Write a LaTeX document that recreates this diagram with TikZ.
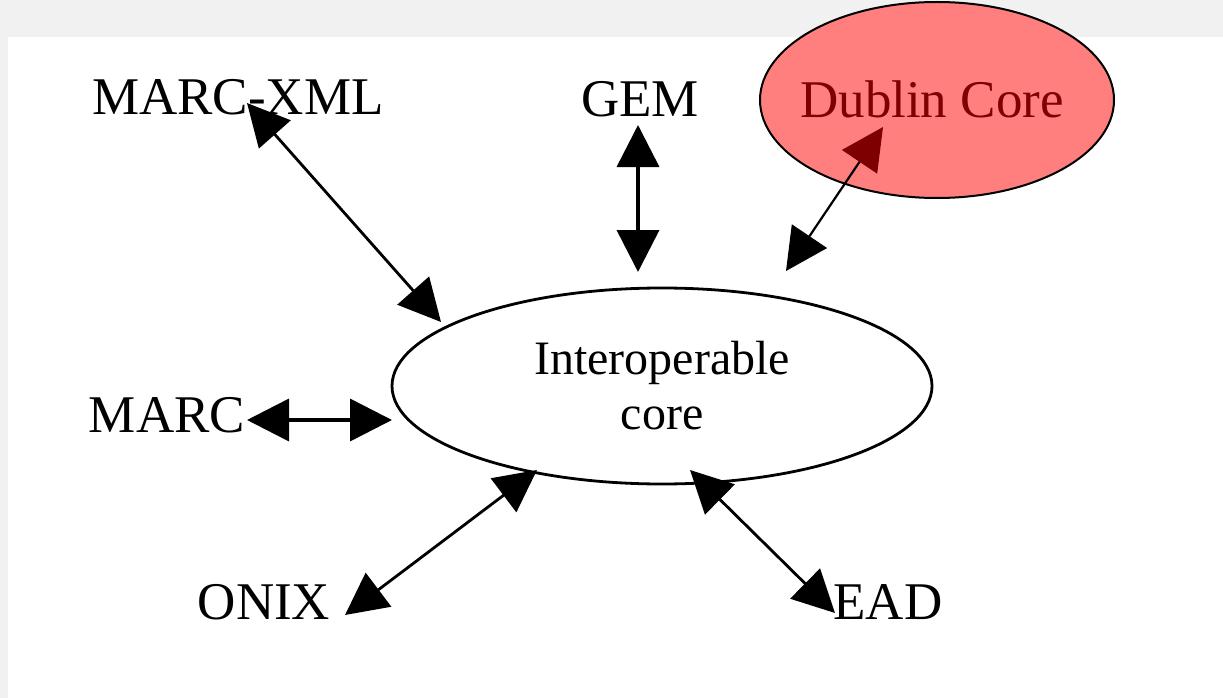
\documentclass[tikz,border=0pt]{standalone}
\usepackage{fontspec}
\setmainfont{Liberation Serif}
\usetikzlibrary{arrows.meta,shapes.geometric}
\definecolor{bgray}{RGB}{241,241,241}
\definecolor{dcfill}{RGB}{255,127,127}
\definecolor{dcred}{RGB}{127,0,0}
\tikzset{
  lbl/.style={anchor=base, inner sep=0pt, font=\fontsize{53}{60}\selectfont},
  conn/.style={line width=3pt, {Triangle[length=42pt,width=42pt]}-{Triangle[length=42pt,width=42pt]}},
}
\begin{document}
\begin{tikzpicture}[x=1pt,y=-1pt]
\useasboundingbox (0,0) rectangle (1223,698);
\fill[bgray] (0,0) rectangle (1223,698);
\fill[white] (8,37) rectangle (1223,698);
% central ellipse
\node[draw, line width=2.8pt, ellipse, minimum width=540pt, minimum height=196pt, inner sep=0pt,
      align=center, font=\fontsize{48}{55}\selectfont] (core) at (662,386) {Interoperable\\core};
% Dublin Core
\node[draw, line width=2pt, fill=dcfill, ellipse, minimum width=354pt, minimum height=196pt, inner sep=0pt] (dc) at (937,100) {};
\node[lbl, text=dcred] (dct) at (932,118) {Dublin Core};
% labels
\node[lbl] (marcxml) at (238,115) {MARC-XML};
\node[lbl] (gem) at (640,117) {GEM};
\node[lbl] (marc) at (167,432) {MARC};
\node[lbl] (onix) at (264,619) {ONIX};
\node[lbl] (ead) at (888,619) {EAD};
% tip coordinates
\coordinate (mxA) at (247,103);
\coordinate (mxB) at (441,322);
\coordinate (gemA) at (638,125);
\coordinate (gemB) at (638,272);
\coordinate (dcA) at (883,127);
\coordinate (dcB) at (786,271);
\coordinate (mA) at (247,420);
\coordinate (mB) at (392,420);
\coordinate (oA) at (345,615);
\coordinate (oB) at (537,470);
\coordinate (eA) at (690,470);
\coordinate (eB) at (835,613);
% connectors
\draw[conn, line width=2.8pt] (mxA) -- (mxB);
\draw[conn, line width=3.6pt] (gemA) -- (gemB);
\draw[conn, line width=3.6pt] (mA) -- (mB);
\draw[conn, line width=2.8pt] (oA) -- (oB);
\draw[conn, line width=2.8pt] (eA) -- (eB);
\draw[line width=2.2pt, {Triangle[length=42pt,width=42pt,color=dcred]}-{Triangle[length=42pt,width=42pt]}] (dcA) -- (dcB);
\end{tikzpicture}
\end{document}
